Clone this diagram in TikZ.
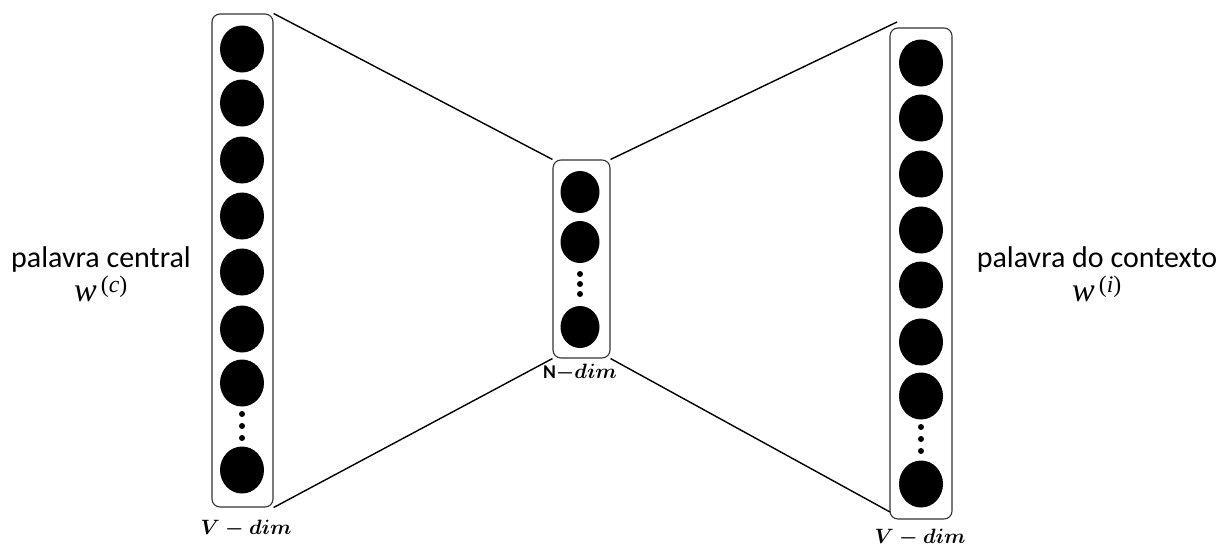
\documentclass[tikz,border=0pt]{standalone}
\usepackage{amsmath}
\usepackage{fontspec}
\setmainfont{Carlito}
\newfontfamily\wfont{Liberation Serif}
\usetikzlibrary{shapes.geometric}
\newcommand{\wvar}[1]{{\fontsize{34}{34}\selectfont${\text{\wfont\itshape w}}^{\text{\wfont\,(\itshape #1\/\upshape)}}$}}
\begin{document}
\begin{tikzpicture}[x=1pt,y=-1pt,
  layerbox/.style={draw=black!80, line width=1.1pt, rounded corners=8pt, rectangle, inner sep=0pt},
  bigneuron/.style={ellipse, fill=black, inner sep=0pt, minimum width=44pt, minimum height=47pt},
  smallneuron/.style={ellipse, fill=black, inner sep=0pt, minimum width=39pt, minimum height=42pt},
  dotn/.style={circle, fill=black, inner sep=0pt, minimum size=6pt},
  link/.style={draw=black, line width=1.4pt},
  sidelabel/.style={align=center, font=\fontsize{30}{34}\selectfont, inner sep=0pt},
  dimlabel/.style={font=\fontsize{19.5}{22}\selectfont, inner sep=0pt, anchor=base}
]
\useasboundingbox (0,0) rectangle (1220,549);

% boxes
\node[layerbox, minimum width=61pt, minimum height=493pt] (L) at (242.5,260.5) {};
\node[layerbox, minimum width=57pt, minimum height=198pt] (M) at (581.5,259) {};
\node[layerbox, minimum width=62pt, minimum height=491pt] (R) at (921,273.5) {};

% left neurons
\foreach \y [count=\i] in {49,103,160,216,272,329,383,470}
  \node[bigneuron] (l\i) at (242,\y) {};
\foreach \y [count=\i] in {414,426,438}
  \node[dotn] (ld\i) at (242,\y) {};

% middle neurons
\foreach \y [count=\i] in {192,242,327}
  \node[smallneuron] (m\i) at (580,\y) {};
\foreach \y [count=\i] in {274,284,294}
  \node[dotn] (md\i) at (580,\y) {};

% right neurons
\foreach \y [count=\i] in {63,118,174,230,285,342,396,484}
  \node[bigneuron] (r\i) at (921,\y) {};
\foreach \y [count=\i] in {427,439,451}
  \node[dotn] (rd\i) at (921,\y) {};

% connectors
\coordinate (rt) at (897,22);
\coordinate (rb) at (890,512);
\draw[link] (L.north east) -- (M.north west);
\draw[link] (L.south east) -- (M.south west);
\draw[link] (M.north east) -- (rt);
\draw[link] (M.south east) -- (rb);

% labels
\node[sidelabel] (lc) at (101,274) {palavra central\\\wvar{c}};
\node[sidelabel] (lx) at (1097,274) {palavra do contexto\\\wvar{i}};
\node[dimlabel] (ldim) at (246,534) {$\boldsymbol{V-dim}$};
\node[dimlabel] (mdim) at (580,378) {\textbf{N}$\boldsymbol{-dim}$};
\node[dimlabel] (rdim) at (920,543) {$\boldsymbol{V-dim}$};
\end{tikzpicture}
\end{document}
